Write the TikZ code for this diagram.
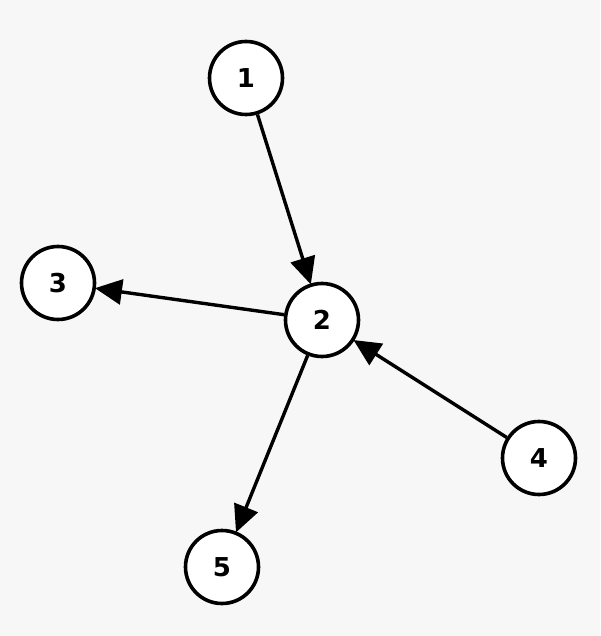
\documentclass[tikz,border=0pt]{standalone}
\usepackage{fontspec}
\setmainfont{DejaVu Sans}
\usetikzlibrary{arrows.meta}
\definecolor{bg}{HTML}{F7F7F7}
\begin{document}
\begin{tikzpicture}[x=1pt,y=-1pt,
  vert/.style={circle,draw=black,fill=white,line width=3.6pt,minimum size=73pt,inner sep=0pt,font=\fontsize{26}{30}\selectfont\bfseries},
  edge/.style={line width=3.4pt,-{Triangle[length=27pt,width=25pt]},shorten >=-1pt}]
\fill[bg] (0,0) rectangle (600,636);
\useasboundingbox (0,0) rectangle (600,636);
\node[vert] (n1) at (246,78) {1};
\node[vert] (n2) at (322,320) {2};
\node[vert] (n3) at (58,283) {3};
\node[vert] (n4) at (539,458) {4};
\node[vert] (n5) at (222,567) {5};
\draw[edge] (n1) -- (n2);
\draw[edge] (n2) -- (n3);
\draw[edge] (n2) -- (n5);
\draw[edge] (n4) -- (n2);
\end{tikzpicture}
\end{document}
